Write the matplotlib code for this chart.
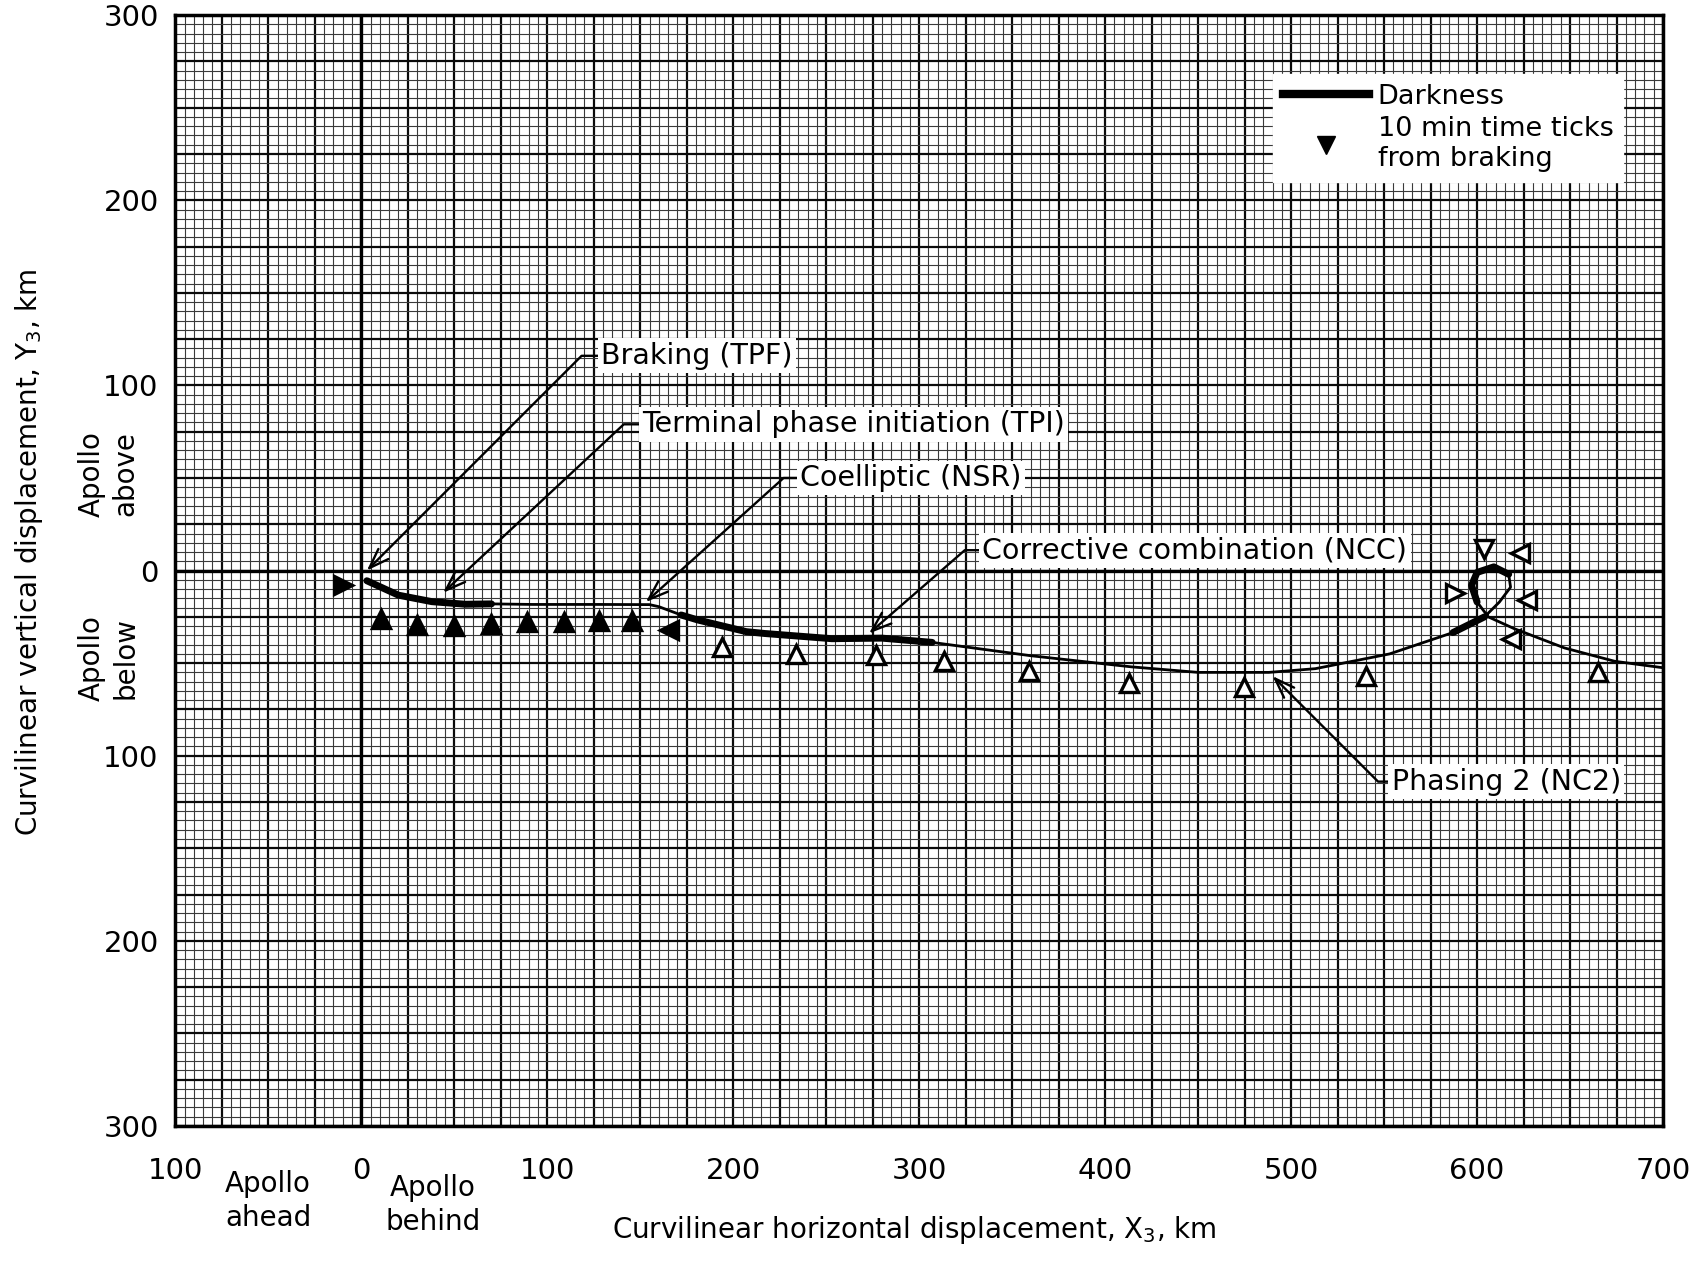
import matplotlib.pyplot as plt
from matplotlib.ticker import MultipleLocator, FuncFormatter
from matplotlib.lines import Line2D

# relative path of Apollo, curvilinear coordinates (km)
traj_x = [3, 20, 38, 56, 70, 92, 128, 155, 160, 172, 181, 207, 217, 253, 280, 307,
          360, 414, 450, 477, 488, 513, 553, 587, 604, 612, 618, 617, 609, 600, 597, 600,
          606, 620, 647, 674, 700]
traj_y = [-5.5, -13.3, -16.8, -18.2, -18.0, -18.3, -18.3, -18.4, -19.5, -24, -26.7, -33,
          -34, -36.8, -36.5, -38.8, -46, -52, -55, -55, -55, -53, -45, -33.5, -25, -17,
          -9, -2, 2, -1, -8, -17, -25, -31.4, -41.8, -49, -52.5]
# stretches flown in darkness (index ranges into traj)
dark_spans = [(0, 4), (9, 15), (23, 24), (27, 31)]

# 10 min time ticks from braking
tick_x = [-9.6, 10.6, 29.8, 49.7, 69.6, 89, 108.9, 127.7, 145.4, 165.4,
          194, 233.8, 276.8, 313.3, 359, 412.7, 474.7, 540.2,
          588, 603.6, 623, 627, 618, 665]
tick_y = [-7.9, -26.3, -29.2, -30, -28.7, -28, -27.7, -27.4, -27.2, -32.2,
          -41.4, -45, -45.7, -49, -54.3, -61, -62.7, -57,
          -12, 11.4, 9.5, -16, -37, -54.7]
tick_mark = ['>', '^', '^', '^', '^', '^', '^', '^', '^', '<',
             '^', '^', '^', '^', '^', '^', '^', '^',
             '>', 'v', '<', '<', '<', '^']
n_filled = 10

# maneuvers
event_names = ['Braking (TPF)', 'Terminal phase initiation (TPI)', 'Coelliptic (NSR)',
               'Corrective combination (NCC)', 'Phasing 2 (NC2)']
event_x = [3, 44, 153, 273, 490]
event_y = [0, -12, -17, -34, -57]
label_x = [129, 151, 236, 334, 554]
label_y = [116, 79, 50, 11, -114]
leader_ang = [45, 43, 42, 41, -45]

fig = plt.figure(figsize=(16.97, 12.63), dpi=100)
ax = fig.add_axes([0.1033, 0.1085, 0.8767, 0.8795])
ax.set_xlim(-100, 700)
ax.set_ylim(-300, 300)

# graph paper
ax.xaxis.set_major_locator(MultipleLocator(25))
ax.yaxis.set_major_locator(MultipleLocator(25))
ax.xaxis.set_minor_locator(MultipleLocator(5))
ax.yaxis.set_minor_locator(MultipleLocator(5))
lab = FuncFormatter(lambda v, p: str(abs(int(round(v)))) if round(v) % 100 == 0 else '')
ax.xaxis.set_major_formatter(lab)
ax.yaxis.set_major_formatter(lab)
ax.grid(which='minor', color='#3a3a3a', lw=0.8)
ax.grid(which='major', color='#0a0a0a', lw=1.6)
ax.set_axisbelow(True)
ax.tick_params(which='both', length=0)
ax.tick_params(axis='x', labelsize=21, pad=22)
ax.tick_params(axis='y', labelsize=21, pad=12)
for s in ax.spines.values():
    s.set_linewidth(2.5)
ax.axhline(0, color='black', lw=2.4, zorder=1)
ax.axvline(0, color='black', lw=2.4, zorder=1)

# path
ax.plot(traj_x, traj_y, color='black', lw=2.0, zorder=3)
for a, b in dark_spans:
    ax.plot(traj_x[a:b + 1], traj_y[a:b + 1], color='black', lw=5.0,
            solid_capstyle='round', solid_joinstyle='round', zorder=3)

for i in range(len(tick_x)):
    fc = 'black' if i < n_filled else 'white'
    ax.plot(tick_x[i], tick_y[i], ls='none', marker=tick_mark[i], ms=13,
            mfc=fc, mec='black', mew=2.4, zorder=4)

# maneuver labels
for i in range(len(event_names)):
    ax.annotate(event_names[i], xy=(event_x[i], event_y[i]),
                xytext=(label_x[i], label_y[i]), ha='left', va='center', fontsize=20.5,
                bbox=dict(boxstyle='square,pad=0.12', fc='white', ec='none'),
                arrowprops=dict(arrowstyle='->,head_length=0.7,head_width=0.25',
                                color='black', lw=1.7, shrinkA=0, shrinkB=0,
                                relpos=(0, 0.5),
                                connectionstyle='angle,angleA=0,angleB=%d,rad=0' % leader_ang[i]),
                zorder=5)

handles = [Line2D([], [], color='black', lw=6),
           Line2D([], [], ls='none', marker='v', color='black', ms=13)]
leg = ax.legend(handles, ['Darkness', '10 min time ticks\nfrom braking'],
                loc='upper right', bbox_to_anchor=(0.973, 0.947), fontsize=19.5,
                frameon=True, fancybox=False, edgecolor='white', framealpha=1,
                handlelength=3.2, borderaxespad=0, borderpad=0.35,
                labelspacing=0.25, handletextpad=0.3)
leg.set_zorder(6)

# axis titles and side notes
fig.text(0.539, 0.026, 'Curvilinear horizontal displacement, X$_3$, km',
         ha='center', va='center', fontsize=20)
fig.text(0.017, 0.563, 'Curvilinear vertical displacement, Y$_3$, km',
         ha='center', va='center', rotation=90, fontsize=20)
fig.text(0.158, 0.049, 'Apollo\nahead', ha='center', va='center', fontsize=20,
         linespacing=1.25)
fig.text(0.255, 0.046, 'Apollo\nbehind', ha='center', va='center', fontsize=20,
         linespacing=1.25)
fig.text(0.064, 0.625, 'Apollo\nabove', ha='center', va='center', rotation=90,
         fontsize=20, linespacing=1.25)
fig.text(0.064, 0.479, 'Apollo\nbelow', ha='center', va='center', rotation=90,
         fontsize=20, linespacing=1.25)

fig.savefig('out.png', dpi=100)
